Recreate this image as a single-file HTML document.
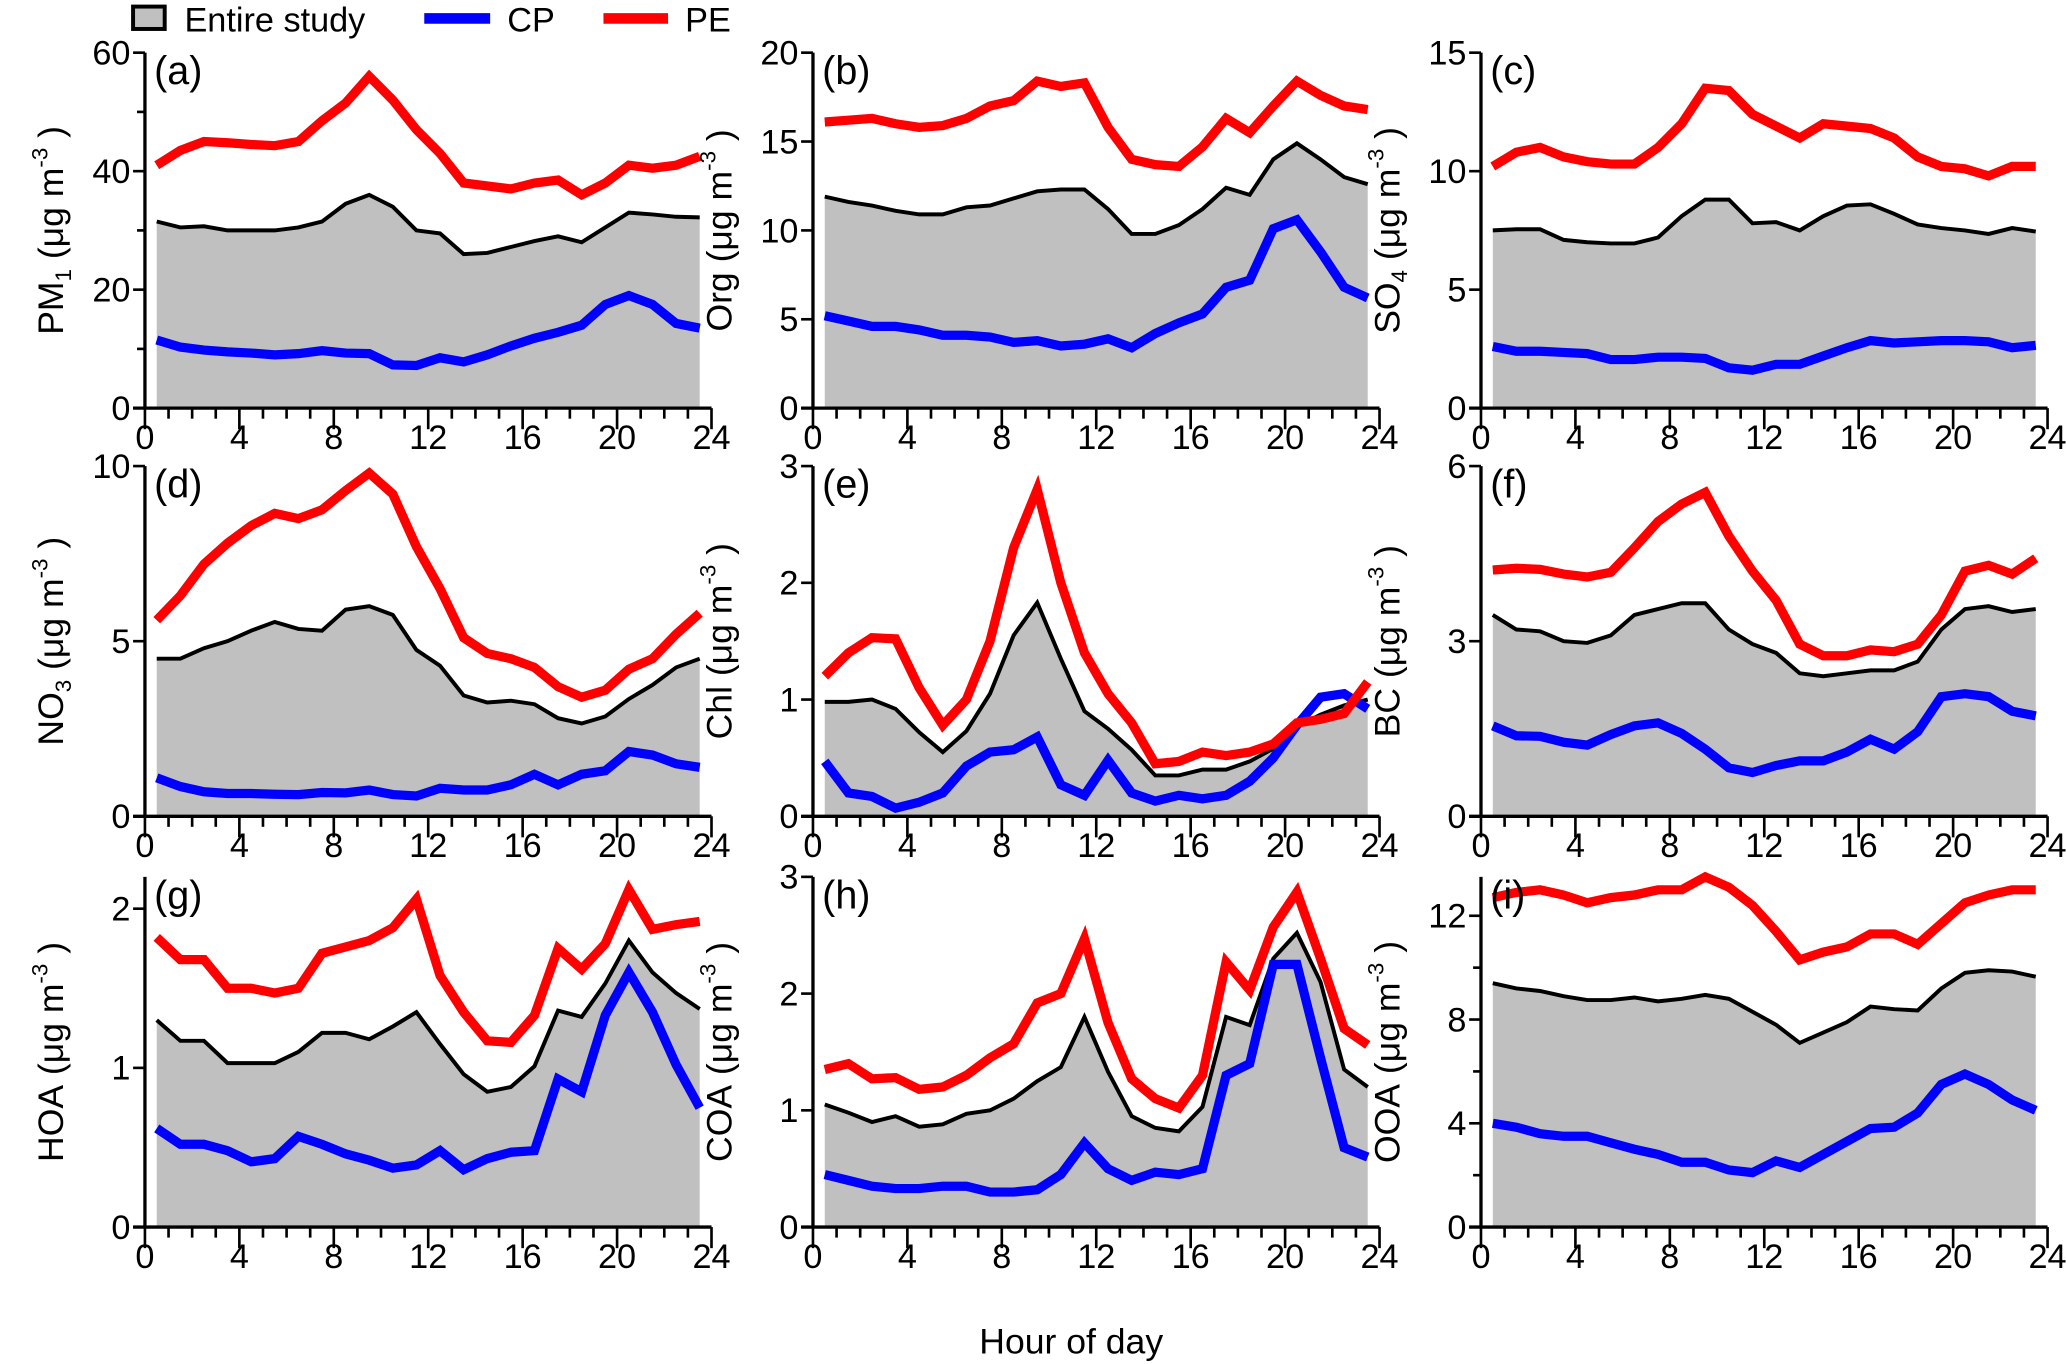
<!DOCTYPE html>
<html><head><meta charset="utf-8"><style>html,body{margin:0;padding:0;background:#fff}svg{display:block}</style></head>
<body>
<svg id="chart" width="2066" height="1364" viewBox="0 0 1568 1036" preserveAspectRatio="none" xmlns="http://www.w3.org/2000/svg" font-family="Liberation Sans, sans-serif"></svg>
<script>
const hours=[0.5,1.5,2.5,3.5,4.5,5.5,6.5,7.5,8.5,9.5,10.5,11.5,12.5,13.5,14.5,15.5,16.5,17.5,18.5,19.5,20.5,21.5,22.5,23.5];
const xTicks=[0,4,8,12,16,20,24];
const aPE=[41,43.5,45,44.8,44.5,44.3,45,48.5,51.5,56,52,47,43,38,37.5,37,38,38.5,36,38,41,40.5,41,42.5];
const aAll=[31.5,30.5,30.7,30,30,30,30.5,31.5,34.5,36,34,30,29.5,26,26.2,27.2,28.2,29,28,30.5,33,32.7,32.3,32.2];
const aCP=[11.5,10.3,9.8,9.5,9.3,9,9.2,9.7,9.3,9.2,7.3,7.2,8.5,7.8,9,10.5,11.8,12.8,14,17.5,19,17.5,14.3,13.5];
const bPE=[16.1,16.2,16.3,16,15.8,15.9,16.3,17,17.3,18.4,18.1,18.3,15.8,14,13.7,13.6,14.7,16.3,15.5,17,18.4,17.6,17,16.8];
const bAll=[11.9,11.6,11.4,11.1,10.9,10.9,11.3,11.4,11.8,12.2,12.3,12.3,11.2,9.8,9.8,10.3,11.2,12.4,12,14,14.9,14,13,12.6];
const bCP=[5.2,4.9,4.6,4.6,4.4,4.1,4.1,4,3.7,3.8,3.5,3.6,3.9,3.4,4.2,4.8,5.3,6.8,7.2,10.1,10.6,8.8,6.8,6.2];
const cPE=[10.2,10.8,11,10.6,10.4,10.3,10.3,11,12,13.5,13.4,12.4,11.9,11.4,12,11.9,11.8,11.4,10.6,10.2,10.1,9.8,10.2,10.2];
const cAll=[7.5,7.55,7.55,7.1,7,6.95,6.95,7.2,8.1,8.8,8.8,7.8,7.85,7.5,8.1,8.55,8.6,8.2,7.75,7.6,7.5,7.35,7.6,7.45];
const cCP=[2.6,2.4,2.4,2.35,2.3,2.05,2.05,2.15,2.15,2.1,1.7,1.6,1.85,1.85,2.2,2.55,2.85,2.75,2.8,2.85,2.85,2.8,2.55,2.65];
const dPE=[5.6,6.3,7.2,7.8,8.3,8.65,8.5,8.75,9.3,9.8,9.2,7.7,6.5,5.1,4.65,4.5,4.25,3.7,3.4,3.6,4.2,4.5,5.2,5.8];
const dAll=[4.5,4.5,4.8,5,5.3,5.55,5.35,5.3,5.9,6,5.75,4.75,4.3,3.45,3.25,3.3,3.2,2.8,2.65,2.85,3.35,3.75,4.25,4.5];
const dCP=[1.1,0.85,0.7,0.65,0.65,0.63,0.62,0.68,0.67,0.75,0.62,0.58,0.8,0.75,0.75,0.9,1.2,0.9,1.2,1.3,1.85,1.75,1.5,1.4];
const ePE=[1.2,1.4,1.53,1.52,1.1,0.78,1,1.5,2.3,2.8,2,1.4,1.05,0.8,0.45,0.47,0.55,0.52,0.55,0.62,0.8,0.83,0.88,1.15];
const eAll=[0.98,0.98,1,0.92,0.72,0.55,0.73,1.05,1.55,1.83,1.35,0.9,0.75,0.57,0.35,0.35,0.4,0.4,0.47,0.58,0.77,0.87,0.95,1.0];
const eCP=[0.47,0.2,0.17,0.07,0.12,0.2,0.43,0.55,0.57,0.68,0.27,0.18,0.48,0.2,0.13,0.18,0.15,0.18,0.3,0.5,0.78,1.02,1.05,0.92];
const fPE=[4.22,4.25,4.23,4.15,4.1,4.18,4.6,5.05,5.35,5.55,4.8,4.2,3.7,2.95,2.75,2.75,2.85,2.82,2.95,3.45,4.2,4.3,4.15,4.42];
const fAll=[3.45,3.2,3.17,3,2.97,3.1,3.45,3.55,3.65,3.65,3.2,2.95,2.8,2.45,2.4,2.45,2.5,2.5,2.65,3.2,3.55,3.6,3.5,3.55];
const fCP=[1.55,1.38,1.37,1.27,1.22,1.4,1.55,1.6,1.42,1.15,0.83,0.75,0.87,0.95,0.95,1.1,1.32,1.15,1.45,2.05,2.1,2.05,1.8,1.72];
const gPE=[1.82,1.68,1.68,1.5,1.5,1.47,1.5,1.72,1.76,1.8,1.88,2.06,1.58,1.35,1.17,1.16,1.33,1.75,1.62,1.78,2.12,1.87,1.9,1.92];
const gAll=[1.3,1.17,1.17,1.03,1.03,1.03,1.1,1.22,1.22,1.18,1.26,1.35,1.15,0.96,0.85,0.88,1.01,1.36,1.32,1.53,1.8,1.6,1.47,1.37];
const gCP=[0.62,0.52,0.52,0.48,0.41,0.43,0.57,0.52,0.46,0.42,0.37,0.39,0.48,0.36,0.43,0.47,0.48,0.93,0.85,1.33,1.6,1.35,1.02,0.75];
const hPE=[1.35,1.4,1.27,1.28,1.18,1.2,1.3,1.45,1.57,1.92,2,2.47,1.75,1.27,1.1,1.02,1.3,2.27,2.03,2.57,2.87,2.3,1.7,1.56];
const hAll=[1.05,0.98,0.9,0.95,0.86,0.88,0.97,1,1.1,1.25,1.37,1.8,1.33,0.95,0.85,0.82,1.03,1.8,1.73,2.3,2.52,2.1,1.35,1.2];
const hCP=[0.45,0.4,0.35,0.33,0.33,0.35,0.35,0.3,0.3,0.32,0.45,0.72,0.5,0.4,0.47,0.45,0.5,1.3,1.4,2.25,2.25,1.45,0.68,0.6];
const iPE=[12.7,12.9,13,12.8,12.5,12.7,12.8,13,13,13.5,13.1,12.4,11.4,10.3,10.6,10.8,11.3,11.3,10.9,11.7,12.5,12.8,13,13];
const iAll=[9.4,9.2,9.1,8.9,8.75,8.75,8.85,8.7,8.8,8.95,8.8,8.3,7.8,7.1,7.5,7.9,8.5,8.4,8.35,9.2,9.8,9.9,9.85,9.65];
const iCP=[4,3.85,3.6,3.5,3.5,3.25,3,2.8,2.5,2.5,2.2,2.1,2.55,2.3,2.8,3.3,3.8,3.85,4.4,5.5,5.9,5.5,4.9,4.5];
const yTicksA=[0,20,40,60], yTicksB=[0,5,10,15,20], yTicksC=[0,5,10,15], yTicksD=[0,5,10], yTicksE=[0,1,2,3], yTicksF=[0,3,6], yTicksG=[0,1,2], yTicksH=[0,1,2,3], yTicksI=[0,4,8,12];

const NS='http://www.w3.org/2000/svg', svg=document.getElementById('chart');
function mk(tag,attrs,parent){const e=document.createElementNS(NS,tag);for(const k in attrs)e.setAttribute(k,attrs[k]);(parent||svg).appendChild(e);return e;}
const cols=[110,617,1124], colW=430;
const rows=[[40,310],[354,620],[666,932]];
const panels=[
 {id:'a',t:'PM',sub:'1',pe:aPE,all:aAll,cp:aCP,max:60,ticks:yTicksA,minor:10},
 {id:'b',t:'Org',sub:'',pe:bPE,all:bAll,cp:bCP,max:20,ticks:yTicksB,minor:0},
 {id:'c',t:'SO',sub:'4',pe:cPE,all:cAll,cp:cCP,max:15,ticks:yTicksC,minor:0},
 {id:'d',t:'NO',sub:'3',pe:dPE,all:dAll,cp:dCP,max:10,ticks:yTicksD,minor:0},
 {id:'e',t:'Chl',sub:'',pe:ePE,all:eAll,cp:eCP,max:3,ticks:yTicksE,minor:0},
 {id:'f',t:'BC',sub:'',pe:fPE,all:fAll,cp:fCP,max:6,ticks:yTicksF,minor:0},
 {id:'g',t:'HOA',sub:'',pe:gPE,all:gAll,cp:gCP,max:2.2,ticks:yTicksG,minor:0},
 {id:'h',t:'COA',sub:'',pe:hPE,all:hAll,cp:hCP,max:3,ticks:yTicksH,minor:0},
 {id:'i',t:'OOA',sub:'',pe:iPE,all:iAll,cp:iCP,max:13.5,ticks:yTicksI,minor:2}
];
panels.forEach((p,k)=>{
  const x0=cols[k%3], [top,bot]=rows[Math.floor(k/3)];
  const X=h=>x0+h/24*colW, Y=v=>bot-v/p.max*(bot-top);
  const g=mk('g',{});
  
  
  let d='M'+X(hours[0])+','+Y(0);
  hours.forEach((h,i)=>d+=' L'+X(h)+','+Y(p.all[i]));
  d+=' L'+X(hours[23])+','+Y(0)+'Z';
  const area=mk('path',{d:d,fill:'#c0c0c0',stroke:'none'},g);
  
  
  [['all','#000',3,'entire-study-line'],['cp','#0000ff',7,'cp-line'],['pe','#ff0000',7,'pe-line']].forEach(s=>{
    const pts=hours.map((h,i)=>X(h)+','+Y(p[s[0]][i])).join(' ');
    const l=mk('polyline',{points:pts,fill:'none',stroke:s[1],'stroke-width':s[2],'stroke-linejoin':'miter'},g);
    
    
  });
  mk('line',{x1:x0,y1:top,x2:x0,y2:bot,stroke:'#000','stroke-width':2.5},g);
  mk('line',{x1:x0-9,y1:bot,x2:X(24),y2:bot,stroke:'#000','stroke-width':2.5},g);
  for(let h=0;h<=24;h++){const mj=h%4===0;mk('line',{x1:X(h),y1:bot,x2:X(h),y2:bot+(mj?16:8),stroke:'#000','stroke-width':2},g);}
  xTicks.forEach(h=>{const t=mk('text',{x:X(h),y:bot+31,'font-size':26,'text-anchor':'middle'},g);t.textContent=h;});
  p.ticks.forEach(v=>{mk('line',{x1:x0-9,y1:Y(v),x2:x0,y2:Y(v),stroke:'#000','stroke-width':2},g);
    const t=mk('text',{x:x0-11,y:Y(v)+9,'font-size':26,'text-anchor':'end'},g);t.textContent=v;});
  if(p.minor){for(let v=p.minor;v<p.max;v+=p.minor*2){mk('line',{x1:x0-6,y1:Y(v),x2:x0,y2:Y(v),stroke:'#000','stroke-width':2},g);}}
  const pl=mk('text',{x:x0+7,y:top+24,'font-size':30},g);pl.textContent='('+p.id+')';
  const cy=(top+bot)/2, tx=x0-62;
  const yt=mk('text',{x:0,y:0,'font-size':27,'text-anchor':'middle',transform:'translate('+tx+','+cy+') rotate(-90)'},g);
  
  
  let s=mk('tspan',{},yt);s.textContent=p.t;
  if(p.sub){s=mk('tspan',{'font-size':17,dy:6},yt);s.textContent=p.sub;s=mk('tspan',{dy:-6},yt);s.textContent=' (μg m';}
  else{s=mk('tspan',{},yt);s.textContent='  (μg m';}
  s=mk('tspan',{'font-size':17,dy:-12},yt);s.textContent='-3';
  s=mk('tspan',{dy:12},yt);s.textContent=' )';
});
const lg=mk('g',{});


mk('rect',{x:101,y:5,width:24,height:17,fill:'#c0c0c0',stroke:'#000','stroke-width':3},lg);
let t=mk('text',{x:140,y:24,'font-size':26},lg);t.textContent='Entire study';
mk('line',{x1:322,y1:14,x2:372,y2:14,stroke:'#0000ff','stroke-width':8},lg);
t=mk('text',{x:385,y:24,'font-size':26},lg);t.textContent='CP';
mk('line',{x1:458,y1:14,x2:507,y2:14,stroke:'#ff0000','stroke-width':8},lg);
t=mk('text',{x:520,y:24,'font-size':26},lg);t.textContent='PE';
t=mk('text',{x:813,y:1028,'font-size':27,'text-anchor':'middle'});


t.textContent='Hour of day';
</script>
</body></html>
